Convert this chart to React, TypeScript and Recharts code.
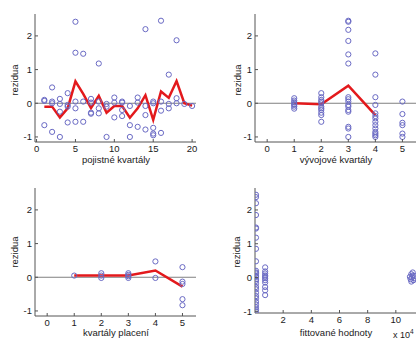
import { ComposedChart, Line, ReferenceLine, Scatter, XAxis, YAxis } from "recharts";

const AXIS = "#555";
const MARKER = "#6a6ac4";
const MEAN = "#e3191c";
const TEXT = "#1a1a1a";
const FONT = "'Liberation Sans', Arial, Helvetica, sans-serif";

// pojistné kvartály
const pojistneKvartaly = [1, 2, 3, 4, 5, 6, 7, 8, 9, 10, 11, 12, 13, 14, 15, 16, 17, 18, 19, 20];
const pojistneRezidua = [
  [0.1, 0.07, -0.65],
  [0.47, 0.05, 0, -0.85],
  [0.13, -0.02, -0.25, -1.0],
  [0.3, -0.05, -0.1, -0.57],
  [2.42, 1.5, 0.05, -0.15, -0.55],
  [1.47, 0.05, -0.55],
  [0.13, 0.02, -0.28, -0.31],
  [1.18, 0.05, -0.15, -0.3],
  [-0.02, -0.1, -1.0],
  [0.17, 0.02, -0.42],
  [0.05, 0.02, -0.2, -0.38],
  [-0.08, -0.65, -1.0],
  [0.17, 0.02, -0.7],
  [2.2, -0.08, -0.35, -0.78],
  [0.05, 0.0, -0.73, -0.9, -0.95],
  [2.45, 0.05, -0.22, -0.88],
  [0.85, -0.02, -0.15],
  [1.87, 0.15, 0.0],
  [-0.02],
  [-0.08],
];
const pojistnePrumer = [-0.1, -0.1, -0.42, -0.15, 0.65, 0.28, -0.14, 0.22, -0.28, -0.08, -0.08, -0.43, -0.15, 0.24, -0.49, 0.35, 0.16, 0.66, 0, -0.07];

// vývojové kvartály
const vyvojoveKvartaly = [1, 2, 3, 4, 5];
const vyvojoveRezidua = [
  [0.15, 0.08, 0.03, -0.02, -0.05, -0.1, -0.16],
  [0.3, 0.18, 0.1, 0.05, 0.0, -0.1, -0.15, -0.2, -0.28, -0.35, -0.55],
  [2.45, 2.42, 2.18, 1.85, 1.45, 1.18, 0.18, 0.12, 0.05, -0.05, -0.1, -0.2, -0.25, -0.7, -0.75, -1.0],
  [1.48, 0.85, 0.18, -0.05, -0.3, -0.38, -0.45, -0.55, -0.65, -0.75, -0.85, -0.9, -0.95, -1.0],
  [0.05, -0.32, -0.58, -0.65, -0.9, -1.0],
];
const vyvojovePrumer = [0, -0.03, 0.52, -0.35];

// kvartály placení
const placeniKvartaly = [1, 2, 3, 4, 5];
const placeniRezidua = [
  [0.05],
  [0.12, 0.05, -0.02],
  [0.12, 0.07, 0.03, -0.02],
  [0.47, -0.02],
  [0.3, -0.13, -0.2, -0.65, -0.83],
];
const placeniPrumer = [0.05, 0.05, 0.05, 0.2, -0.28];

// fittované hodnoty (x 10^4)
const fitHodnoty = [
  0.07, 0.07, 0.07, 0.07, 0.07, 0.07, 0.07, 0.07, 0.07, 0.07, 0.07, 0.07, 0.07, 0.07,
  0.07, 0.07, 0.07, 0.07, 0.07, 0.07, 0.07, 0.07, 0.07, 0.07, 0.07, 0.07, 0.07,
  0.72, 0.72, 0.72, 0.72, 0.72, 0.72, 0.72, 0.72, 0.72, 0.72, 0.72,
  11.0, 11.1, 11.2, 11.3, 11.05, 11.15, 11.25, 11.1, 11.2, 11.3,
];
const fitRezidua = [
  2.45, 2.38, 2.2, 1.85, 1.48, 1.45, 1.18, 0.85, 0.48, 0.2, 0.15, 0.12, 0.05, 0.02,
  -0.05, -0.1, -0.18, -0.28, -0.35, -0.45, -0.55, -0.62, -0.72, -0.8, -0.88, -0.95, -1.0,
  0.3, 0.18, 0.12, 0.06, 0.02, -0.02, -0.08, -0.15, -0.28, -0.38, -0.52,
  0.02, 0.1, 0.15, 0.05, -0.05, 0.0, -0.08, -0.12, 0.06, -0.02,
];

const yTicks = [-1, 0, 1, 2];

type Pt = { x: number; y: number };

const groupPoints = (xs: number[], ys: number[][]): Pt[] =>
  xs.flatMap((x, i) => ys[i].map((y) => ({ x, y })));
const linePoints = (xs: number[], ys: number[]): Pt[] => ys.map((y, i) => ({ x: xs[i], y }));

const Ring = (p: any) => <circle cx={p.cx} cy={p.cy} r={2.6} fill="none" stroke={MARKER} strokeWidth={1} />;

const BottomTick = (p: any) => (
  <g>
    <line x1={p.x} x2={p.x} y1={p.y} y2={p.y - 3} stroke={AXIS} />
    <text x={p.x} y={p.y + 10} textAnchor="middle" fontSize={9.5} fill={TEXT} fontFamily={FONT}>
      {p.payload.value}
    </text>
  </g>
);
const TopTick = (p: any) => <line x1={p.x} x2={p.x} y1={p.y} y2={p.y + 3} stroke={AXIS} />;
const LeftTick = (p: any) => (
  <g>
    <line x1={p.x} x2={p.x + 3} y1={p.y} y2={p.y} stroke={AXIS} />
    <text x={p.x - 3} y={p.y + 3.5} textAnchor="end" fontSize={9.5} fill={TEXT} fontFamily={FONT}>
      {p.payload.value}
    </text>
  </g>
);
const RightTick = (p: any) => <line x1={p.x} x2={p.x - 3} y1={p.y} y2={p.y} stroke={AXIS} />;

function Panel({
  left,
  top,
  plotLeft,
  plotTop,
  plotW,
  plotH,
  xDomain,
  xTicks,
  yDomain,
  points,
  mean,
  box = true,
}: {
  left: number;
  top: number;
  plotLeft: number;
  plotTop: number;
  plotW: number;
  plotH: number;
  xDomain: [number, number];
  xTicks: number[];
  yDomain: [number, number];
  points: Pt[];
  mean?: Pt[];
  box?: boolean;
}) {
  const width = plotLeft + plotW + 12;
  const height = 170;
  return (
    <div style={{ position: "absolute", left, top }}>
      <ComposedChart
        width={width}
        height={height}
        margin={{ top: plotTop, right: 12, bottom: 0, left: 0 }}
      >
        <XAxis
          type="number"
          dataKey="x"
          domain={xDomain}
          ticks={xTicks}
          allowDataOverflow
          interval={0}
          height={height - plotTop - plotH}
          tickSize={0}
          tickMargin={0}
          tickLine={false}
          axisLine={{ stroke: AXIS }}
          tick={BottomTick}
        />
        <YAxis
          type="number"
          dataKey="y"
          domain={yDomain}
          ticks={yTicks}
          allowDataOverflow
          interval={0}
          width={plotLeft}
          tickSize={0}
          tickMargin={0}
          tickLine={false}
          axisLine={{ stroke: AXIS }}
          tick={LeftTick}
        />
        {box && (
          <XAxis
            xAxisId="top"
            orientation="top"
            type="number"
            domain={xDomain}
            ticks={xTicks}
            allowDataOverflow
            interval={0}
            height={0}
            tickSize={0}
            tickMargin={0}
            tickLine={false}
            axisLine={{ stroke: AXIS }}
            tick={TopTick}
          />
        )}
        {box && (
          <YAxis
            yAxisId="right"
            orientation="right"
            type="number"
            domain={yDomain}
            ticks={yTicks}
            allowDataOverflow
            interval={0}
            width={0}
            tickSize={0}
            tickMargin={0}
            tickLine={false}
            axisLine={{ stroke: AXIS }}
            tick={RightTick}
          />
        )}
        {box && <ReferenceLine y={0} stroke="#808080" strokeWidth={1} />}
        <Scatter data={points} dataKey="y" shape={Ring} isAnimationActive={false} />
        {mean && (
          <Line
            data={mean}
            dataKey="y"
            type="linear"
            stroke={MEAN}
            strokeWidth={2.5}
            dot={false}
            activeDot={false}
            isAnimationActive={false}
          />
        )}
      </ComposedChart>
    </div>
  );
}

const Title = ({ x, y, children }: { x: number; y: number; children: any }) => (
  <text x={x} y={y} textAnchor="middle" fontSize={9.5} fill={TEXT} fontFamily={FONT}>
    {children}
  </text>
);
const YTitle = ({ x, y }: { x: number; y: number }) => (
  <text
    x={x}
    y={y}
    textAnchor="middle"
    fontSize={9.5}
    fill={TEXT}
    fontFamily={FONT}
    transform={`rotate(-90 ${x} ${y})`}
  >
    rezidua
  </text>
);

export default function App() {
  const yBox: [number, number] = [-1.15, 2.65];
  return (
    <div
      style={{
        position: "absolute",
        left: 0,
        top: 0,
        width: 416,
        height: 340,
        overflow: "hidden",
        background: "#fff",
      }}
    >
      <Panel
        left={0}
        top={0}
        plotLeft={35}
        plotTop={14}
        plotW={161}
        plotH={128}
        xDomain={[-0.2, 20.5]}
        xTicks={[0, 5, 10, 15, 20]}
        yDomain={yBox}
        points={groupPoints(pojistneKvartaly, pojistneRezidua)}
        mean={linePoints(pojistneKvartaly, pojistnePrumer)}
      />
      <Panel
        left={206}
        top={0}
        plotLeft={49}
        plotTop={14}
        plotW={188}
        plotH={128}
        xDomain={[-0.45, 6.5]}
        xTicks={[0, 1, 2, 3, 4, 5]}
        yDomain={yBox}
        points={groupPoints(vyvojoveKvartaly, vyvojoveRezidua)}
        mean={linePoints(vyvojoveKvartaly, vyvojovePrumer)}
      />
      <Panel
        left={0}
        top={170}
        plotLeft={35}
        plotTop={18}
        plotW={161}
        plotH={128}
        xDomain={[-0.45, 5.5]}
        xTicks={[0, 1, 2, 3, 4, 5]}
        yDomain={yBox}
        points={groupPoints(placeniKvartaly, placeniRezidua)}
        mean={linePoints(placeniKvartaly, placeniPrumer)}
      />
      <Panel
        left={206}
        top={170}
        plotLeft={49}
        plotTop={18}
        plotW={169}
        plotH={125}
        xDomain={[0, 12]}
        xTicks={[2, 4, 6, 8, 10]}
        yDomain={[-1.05, 2.65]}
        points={fitHodnoty.map((x, i) => ({ x, y: fitRezidua[i] }))}
        box={false}
      />
      <svg
        width={416}
        height={340}
        style={{ position: "absolute", left: 0, top: 0, pointerEvents: "none" }}
      >
        <Title x={116} y={163}>pojistné kvartály</Title>
        <Title x={336} y={163}>vývojové kvartály</Title>
        <Title x={116} y={336}>kvartály placení</Title>
        <Title x={336} y={336}>fittované hodnoty</Title>
        <YTitle x={18} y={80} />
        <YTitle x={241} y={80} />
        <YTitle x={18} y={252} />
        <YTitle x={240} y={252} />
        <text x={393} y={338} fontSize={9} fill={TEXT} fontFamily={FONT}>
          x 10
          <tspan dy={-4} fontSize={6.5}>
            4
          </tspan>
        </text>
      </svg>
    </div>
  );
}
